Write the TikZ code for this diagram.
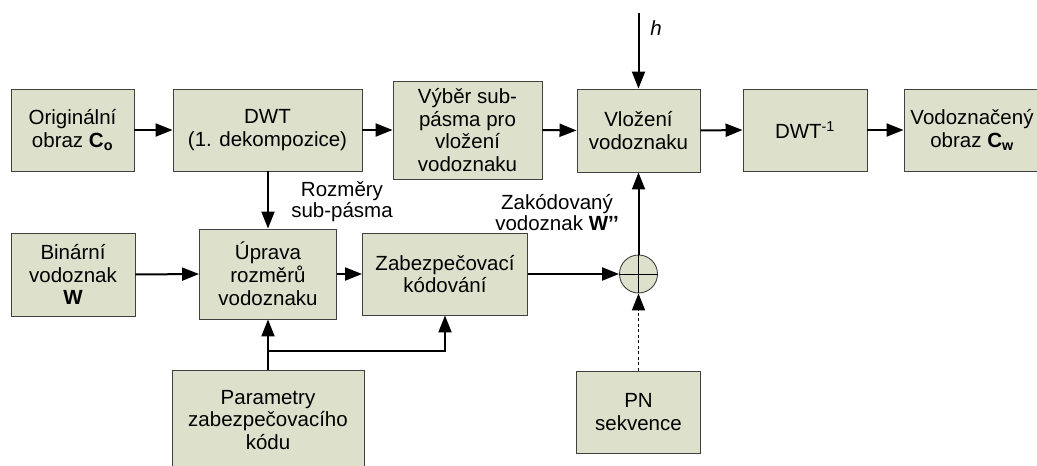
\documentclass[tikz,border=0pt]{standalone}
\usepackage{fontspec}
\setmainfont{Liberation Sans}
\usetikzlibrary{arrows.meta,
    positioning}
\definecolor{blokfill}{RGB}{221,224,203}
\definecolor{blokline}{RGB}{64,64,64}

\begin{document}
\begin{tikzpicture}[x=1pt,y=-1pt,
    blok/.style={draw=blokline,line width=0.9pt,fill=blokfill,align=center,
      inner sep=0pt,font=\fontsize{20.5}{22.8}\selectfont},
    sipka/.style={line width=2pt,-{Triangle[length=17pt,width=13pt]}},
    popis/.style={align=center,font=\fontsize{20.5}{21}\selectfont}]
  \useasboundingbox (0,0) rectangle (1037,466);
  % horni rada
  \node[blok,minimum width=123pt,minimum height=82pt] (orig) at (72.5,130)
    {Originální\\obraz \textbf{C\textsubscript{o}}};
  \node[blok,minimum width=189pt,minimum height=82pt] (dwt) at (267.5,130)
    {DWT\\(1. dekompozice)};
  \node[blok,minimum width=149pt,minimum height=98pt] (vyber) at (467.5,130)
    {Výběr sub-\\pásma pro\\vložení\\vodoznaku};
  \node[blok,minimum width=123pt,minimum height=83pt] (vloz) at (638.5,130.5)
    {Vložení\\vodoznaku};
  \node[blok,minimum width=124pt,minimum height=82pt] (idwt) at (805,130)
    {DWT\textsuperscript{-1}};
  \node[blok,minimum width=136pt,minimum height=82pt] (vodo) at (972,130)
    {Vodoznačený\\obraz \textbf{C\textsubscript{w}}};
  % dolni cast
  \node[blok,minimum width=124pt,minimum height=83pt] (bin) at (73,274.5)
    {Binární\\vodoznak\\\textbf{W}};
  \node[blok,minimum width=137pt,minimum height=90pt] (uprava) at (268,274)
    {Úprava\\rozměrů\\vodoznaku};
  \node[blok,minimum width=165pt,minimum height=82pt] (zabezp) at (445,274)
    {Zabezpečovací\\kódování};
  \node[blok,circle,minimum size=38pt] (sum) at (638.5,274) {};
  \draw[line width=0.9pt] (sum.north) -- (sum.south) (sum.west) -- (sum.east);
  \node[blok,minimum width=192pt,minimum height=100pt] (param) at (268,420)
    {Parametry\\zabezpečovacího\\kódu};
  \node[blok,minimum width=124pt,minimum height=82pt] (pn) at (638.5,412)
    {PN\\sekvence};
  % popisky
  \node[popis] (rozm) at (342,202) {Rozměry\\sub-pásma};
  \node[popis] (zakod) at (557,213) {Zakódovaný\\vodoznak \textbf{W’’}};
  \coordinate (hin) at (638.5,13);
  \node[popis,font=\fontsize{20.5}{21}\selectfont\itshape] (hlbl) at (656,28) {h};
  \coordinate (odb) at (268,351);
  % spoje
  \draw[sipka] (orig.east) -- (dwt.west);
  \draw[sipka] (dwt.east) -- (vyber.west);
  \draw[sipka] (vyber.east) -- (vloz.west);
  \draw[sipka] (vloz.east) -- (idwt.west);
  \draw[sipka] (idwt.east) -- (vodo.west);
  \draw[sipka] (hin) -- (vloz.north);
  \draw[sipka] (dwt.south -| uprava) -- (uprava.north);
  \draw[sipka] (bin.east) -- (uprava.west);
  \draw[sipka] (uprava.east) -- (zabezp.west);
  \draw[sipka] (zabezp.east) -- (sum.west);
  \draw[sipka] (sum.north) -- (vloz.south);
  \draw[sipka,line width=1.8pt,dash pattern=on 3pt off 2.5pt] (pn.north) -- (sum.south);
  \draw[sipka] (param.north) -- (uprava.south);
  \draw[sipka] (odb) -| (zabezp.south);
\end{tikzpicture}
\end{document}
